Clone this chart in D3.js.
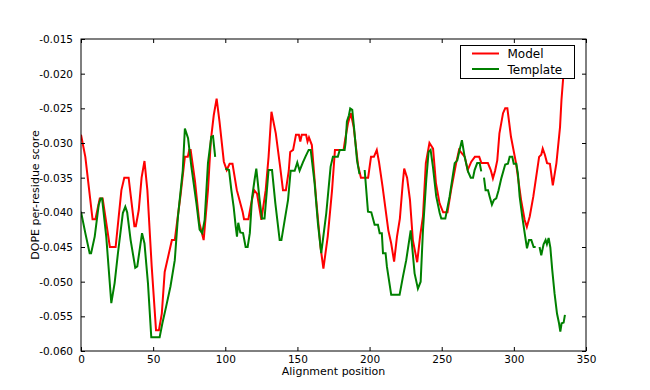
<!DOCTYPE html>
<html>
<head>
<meta charset="utf-8">
<script src="https://cdn.jsdelivr.net/npm/d3@7"></script>
<style>
  body { margin: 0; background: #fff; }
  text { font-family: "DejaVu Sans", sans-serif; fill: #000; }
</style>
</head>
<body>
<svg id="chart" width="650" height="390"></svg>
<script>
// positions and DOPE scores (null = gap in the line)
var modelX = [0, 3, 8, 10, 13, 15, 20, 24, 28, 30, 33, 37, 38, 40, 42, 44, 46, 49, 52, 54, 56, 58, 63, 65, 69, 72, 74, 75, 76, 79, 82, 85, 88, 90, 92, 94, 96, 99, 101, 103, 105, 108, 112, 113, 116, 118, 120, 122, 125, 128, 130, 132, 135, 138, 140, 142, 144, 145, 147, 149, 151, 152, 153, 156, 157, 158, 160, 163, 166, 168, 171, 174, 176, 182, 183, 185, 187, 189, 192, 194, 199, 201, 203, 205, 206.5, 209, 213, 215, 217, 219, 221, 223, 224, 226, 228, 230, 233, 235, 237, 239, 241.5, 244, 246, 248.5, 251, 254, 256.5, 260, 262, 264, 266, 268, 270.5, 273, 276, 277.5, 282, 284, 285.5, 287, 288.5, 290, 292.5, 294, 295.5, 298, 301.5, 305, 307.5, 309, 311, 313.5, 317.5, 319, 320, 321.5, 323, 325, 327, 329.5, 332, 333, 334.5, 336];
var modelY = [-0.0288, -0.032, -0.041, -0.041, -0.038, -0.038, -0.045, -0.045, -0.0368, -0.035, -0.035, -0.042, -0.042, -0.0397, -0.035, -0.0326, -0.0368, -0.0478, -0.057, -0.057, -0.0546, -0.0486, -0.044, -0.044, -0.0375, -0.032, -0.032, -0.031, -0.031, -0.0355, -0.0415, -0.044, -0.0368, -0.0296, -0.026, -0.0236, -0.0269, -0.0327, -0.0339, -0.033, -0.033, -0.0368, -0.0399, -0.041, -0.041, -0.0387, -0.0368, -0.0373, -0.0411, -0.0368, -0.032, -0.0255, -0.0286, -0.0334, -0.0368, -0.0368, -0.034, -0.0313, -0.031, -0.0288, -0.0288, -0.0298, -0.0288, -0.0288, -0.0298, -0.0292, -0.0303, -0.0382, -0.045, -0.0481, -0.0435, -0.0368, -0.031, -0.031, -0.0296, -0.0272, -0.0257, -0.0277, -0.0332, -0.035, -0.035, -0.032, -0.032, -0.031, -0.0327, -0.0363, -0.0426, -0.0445, -0.0471, -0.0435, -0.0409, -0.0358, -0.0337, -0.035, -0.0382, -0.044, -0.0472, -0.0435, -0.0406, -0.0329, -0.030, -0.0308, -0.0358, -0.0387, -0.040, -0.040, -0.0368, -0.0329, -0.031, -0.0315, -0.032, -0.0339, -0.0327, -0.032, -0.032, -0.0329, -0.0329, -0.0339, -0.0351, -0.034, -0.0325, -0.0286, -0.0257, -0.025, -0.025, -0.0291, -0.0329, -0.0382, -0.0411, -0.0421, -0.0406, -0.0377, -0.032, -0.0317, -0.0308, -0.0317, -0.0329, -0.033, -0.0361, -0.0329, -0.0277, -0.0238, -0.0198, -0.017];

var templateX = [0, 3, 6, 7, 9.5, 12.3, 13.6, 14.6, 17.5, 21, 23.3, 25.6, 29, 30.7, 32, 34.4, 37.6, 39, 42.3, 44, 46.4, 48.7, 54.5, 56.4, 59, 62, 65, 67.2, 69, 70.5, 72, 74.2, 76.5, 80, 82.2, 84, 85.7, 88, 90.3, 91.5, 93, 95, 100, 102.6, 104.2, 105.8, 107.2, 108.1, 109, 110.4, 112.3, 114.1, 115.5, 117, 118.5, 120.3, 121.5, 123.8, 125.4, 127.2, 130, 132.4, 134.7, 137.7, 138.9, 141.2, 143.5, 145.3, 148.1, 149.9, 151.5, 153.8, 155.5, 157.8, 159.2, 161.9, 164.2, 166.5, 170, 173, 174.6, 178, 179.3, 182.7, 183.4, 184.3, 185.7, 186.6, 188, 189.2, 191.3, 193, 194.5, 196.6, 198.9, 201.2, 203.5, 205.8, 207, 208.5, 209.3, 211.1, 212, 215, 220.8, 223.1, 225.4, 228.5, 231.2, 233.5, 235.4, 237, 239.3, 240.9, 242.3, 243.9, 246.2, 248.6, 249.7, 252.5, 255.5, 259, 260.8, 262.4, 264, 265.9, 268.2, 270.1, 271.7, 272.8, 274.6, 276.3, 277.4, 278.3, 279.3, 280.4, 282.1, 283.2, 284.8, 286.2, 287.8, 289.4, 291.3, 294, 295.9, 297.1, 298.9, 299.9, 301.7, 302.8, 304, 305.8, 307.5, 309.1, 310.5, 312.1, 313.7, 315.1, 316.5, 317.8, 319, 320.6, 322, 322.9, 324.1, 325.3, 326.6, 328.2, 329.9, 331.3, 332.2, 333.1, 334.5, 335.4];
var templateY = [-0.0399, -0.043, -0.0459, -0.0459, -0.0435, -0.0389, -0.038, -0.038, -0.0435, -0.0531, -0.0502, -0.0459, -0.0401, -0.0392, -0.040, -0.044, -0.048, -0.0478, -0.043, -0.0445, -0.0502, -0.058, -0.058, -0.056, -0.0536, -0.0507, -0.0469, -0.0406, -0.037, -0.034, -0.0279, -0.0293, -0.0334, -0.0387, -0.0425, -0.043, -0.0411, -0.0329, -0.0291, -0.029, -0.032, null, -0.0337, -0.0339, -0.0368, -0.0392, -0.042, -0.0435, -0.0415, -0.0429, -0.043, -0.045, -0.045, -0.043, -0.038, -0.0353, -0.0337, -0.0382, -0.0409, -0.0409, -0.0339, -0.0339, -0.0387, -0.044, -0.044, -0.0411, -0.0382, -0.034, -0.034, -0.0328, -0.034, -0.0328, -0.032, -0.031, -0.031, -0.0358, -0.0416, -0.0459, -0.0401, -0.0334, -0.032, -0.032, -0.031, -0.031, -0.0299, -0.0269, -0.026, -0.025, -0.0252, -0.0277, -0.0325, -0.0345, null, -0.0339, -0.0399, -0.040, -0.0418, -0.0418, -0.043, -0.043, -0.0459, -0.0459, -0.0478, -0.0519, -0.0519, -0.0493, -0.0469, -0.0426, -0.0488, -0.051, -0.050, -0.0426, -0.0353, -0.0313, -0.031, -0.0334, -0.0377, -0.0401, -0.0409, -0.0409, -0.0377, -0.0329, -0.0325, -0.031, -0.0296, -0.032, -0.0341, -0.035, -0.035, -0.0339, -0.0329, -0.0329, -0.0341, null, -0.035, -0.0368, -0.0368, -0.0377, -0.0389, -0.0382, -0.038, -0.0368, -0.0351, -0.0331, -0.033, -0.032, -0.032, -0.033, -0.033, -0.0344, -0.0377, -0.0406, -0.043, -0.0452, -0.044, -0.044, -0.045, -0.045, null, -0.045, -0.0462, -0.0446, -0.044, -0.0446, -0.0437, -0.0451, -0.0483, -0.0517, -0.0546, -0.056, -0.0572, -0.056, -0.0559, -0.0548];

var xTicks = [0, 50, 100, 150, 200, 250, 300, 350];
var yTicks = [-0.060, -0.055, -0.050, -0.045, -0.040, -0.035, -0.030, -0.025, -0.020, -0.015];

var plotLeft = 81, plotRight = 586, plotTop = 39, plotBottom = 351;
var svg = d3.select("#chart");

var x = d3.scaleLinear().domain([0, 350]).range([plotLeft, plotRight]);
var y = d3.scaleLinear().domain([-0.060, -0.015]).range([plotBottom, plotTop]);

function pairs(xs, ys) {
  return xs.map(function(d, i) { return [d, ys[i]]; });
}

var line = d3.line()
  .defined(function(d) { return d[1] !== null; })
  .x(function(d) { return x(d[0]); })
  .y(function(d) { return y(d[1]); });

svg.append("defs").append("clipPath").attr("id", "clip")
  .append("rect").attr("x", plotLeft).attr("y", plotTop)
  .attr("width", plotRight - plotLeft).attr("height", plotBottom - plotTop);

var plot = svg.append("g").attr("clip-path", "url(#clip)");

plot.append("path").datum(pairs(modelX, modelY))
  .attr("d", line).attr("fill", "none")
  .attr("stroke", "#ff0000").attr("stroke-width", 2);

plot.append("path").datum(pairs(templateX, templateY))
  .attr("d", line).attr("fill", "none")
  .attr("stroke", "#008000").attr("stroke-width", 2);

// axes: ticks inward on all four sides, like the old matplotlib look
var fmt = d3.format(".3f");
svg.append("g").attr("transform", "translate(0," + plotBottom + ")")
  .call(d3.axisBottom(x).tickValues(xTicks).tickSizeInner(-4).tickSizeOuter(0).tickPadding(5))
  .call(function(g) { g.select(".domain").remove(); });
svg.append("g").attr("transform", "translate(0," + plotTop + ")")
  .call(d3.axisTop(x).tickValues(xTicks).tickSizeInner(-4).tickSizeOuter(0).tickFormat(""))
  .call(function(g) { g.select(".domain").remove(); });
svg.append("g").attr("transform", "translate(" + plotLeft + ",0)")
  .call(d3.axisLeft(y).tickValues(yTicks).tickSizeInner(-4).tickSizeOuter(0).tickPadding(8)
    .tickFormat(function(d) { return fmt(d).replace("−", "-"); }))
  .call(function(g) { g.select(".domain").remove(); });
svg.append("g").attr("transform", "translate(" + plotRight + ",0)")
  .call(d3.axisRight(y).tickValues(yTicks).tickSizeInner(-4).tickSizeOuter(0).tickFormat(""))
  .call(function(g) { g.select(".domain").remove(); });

svg.selectAll(".tick text").style("font-family", "DejaVu Sans").style("font-size", "10.5px").attr("fill", "#000");
svg.selectAll(".tick line").attr("stroke", "#000");

svg.append("rect").attr("x", plotLeft).attr("y", plotTop)
  .attr("width", plotRight - plotLeft).attr("height", plotBottom - plotTop)
  .attr("fill", "none").attr("stroke", "#000").attr("stroke-width", 1);

svg.append("text").attr("x", (plotLeft + plotRight) / 2).attr("y", 375)
  .attr("text-anchor", "middle").style("font-size", "11px").text("Alignment position");

svg.append("text").attr("transform", "translate(39," + ((plotTop + plotBottom) / 2) + ") rotate(-90)")
  .attr("text-anchor", "middle").style("font-size", "11px").text("DOPE per-residue score");

// legend
var legendNames = ["Model", "Template"];
var legendColors = ["#ff0000", "#008000"];
var lg = svg.append("g");
lg.append("rect").attr("x", 460.5).attr("y", 45.5).attr("width", 114).attr("height", 33)
  .attr("fill", "#fff").attr("stroke", "#000").attr("stroke-width", 1);
legendNames.forEach(function(name, i) {
  var ly = 53.5 + i * 15.5;
  lg.append("line").attr("x1", 472).attr("x2", 499).attr("y1", ly).attr("y2", ly)
    .attr("stroke", legendColors[i]).attr("stroke-width", 2);
  lg.append("text").attr("x", 507.5).attr("y", ly + 4.5)
    .style("font-size", "12px").text(name);
});
</script>
</body>
</html>
